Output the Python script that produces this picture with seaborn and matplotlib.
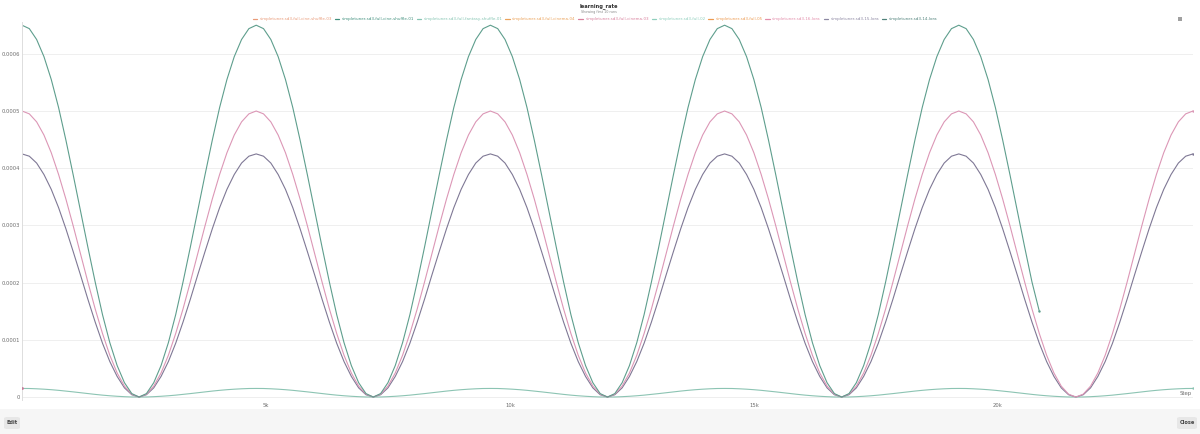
import numpy as np
import pandas as pd
import matplotlib
matplotlib.use("Agg")
import matplotlib.pyplot as plt
import seaborn as sns
from matplotlib.lines import Line2D
from matplotlib.patches import FancyBboxPatch, Rectangle

steps = [0, 150, 300, 450, 600, 750, 900, 1050, 1200, 1350, 1500, 1650, 1800, 1950, 2100, 2250,
         2400, 2550, 2700, 2850, 3000, 3150, 3300, 3450, 3600, 3750, 3900, 4050, 4200, 4350, 4500, 4650,
         4800, 4950, 5100, 5250, 5400, 5550, 5700, 5850, 6000, 6150, 6300, 6450, 6600, 6750, 6900, 7050,
         7200, 7350, 7500, 7650, 7800, 7950, 8100, 8250, 8400, 8550, 8700, 8850, 9000, 9150, 9300, 9450,
         9600, 9750, 9900, 10050, 10200, 10350, 10500, 10650, 10800, 10950, 11100, 11250, 11400, 11550, 11700, 11850,
         12000, 12150, 12300, 12450, 12600, 12750, 12900, 13050, 13200, 13350, 13500, 13650, 13800, 13950, 14100, 14250,
         14400, 14550, 14700, 14850, 15000, 15150, 15300, 15450, 15600, 15750, 15900, 16050, 16200, 16350, 16500, 16650,
         16800, 16950, 17100, 17250, 17400, 17550, 17700, 17850, 18000, 18150, 18300, 18450, 18600, 18750, 18900, 19050,
         19200, 19350, 19500, 19650, 19800, 19950, 20100, 20250, 20400, 20550, 20700, 20850, 21000, 21150, 21300, 21450,
         21600, 21750, 21900, 22050, 22200, 22350, 22500, 22650, 22800, 22950, 23100, 23250, 23400, 23550, 23700, 23850,
         24000]

# learning rate values, in units of 1e-6
lr_14_lora = [650, 644, 625, 595, 555, 506, 449, 388, 325, 262, 201, 144, 95, 55, 25, 6,
              0, 6, 25, 55, 95, 144, 201, 262, 325, 388, 449, 506, 555, 595, 625, 644,
              650, 644, 625, 595, 555, 506, 449, 388, 325, 262, 201, 144, 95, 55, 25, 6,
              0, 6, 25, 55, 95, 144, 201, 262, 325, 388, 449, 506, 555, 595, 625, 644,
              650, 644, 625, 595, 555, 506, 449, 388, 325, 262, 201, 144, 95, 55, 25, 6,
              0, 6, 25, 55, 95, 144, 201, 262, 325, 388, 449, 506, 555, 595, 625, 644,
              650, 644, 625, 595, 555, 506, 449, 388, 325, 262, 201, 144, 95, 55, 25, 6,
              0, 6, 25, 55, 95, 144, 201, 262, 325, 388, 449, 506, 555, 595, 625, 644,
              650, 644, 625, 595, 555, 506, 449, 388, 325, 262, 201, 150]

lr_16_lora = [500, 495, 481, 458, 427, 389, 346, 299, 250, 201, 154, 111, 73, 42, 19, 5,
              0, 5, 19, 42, 73, 111, 154, 201, 250, 299, 346, 389, 427, 458, 481, 495,
              500, 495, 481, 458, 427, 389, 346, 299, 250, 201, 154, 111, 73, 42, 19, 5,
              0, 5, 19, 42, 73, 111, 154, 201, 250, 299, 346, 389, 427, 458, 481, 495,
              500, 495, 481, 458, 427, 389, 346, 299, 250, 201, 154, 111, 73, 42, 19, 5,
              0, 5, 19, 42, 73, 111, 154, 201, 250, 299, 346, 389, 427, 458, 481, 495,
              500, 495, 481, 458, 427, 389, 346, 299, 250, 201, 154, 111, 73, 42, 19, 5,
              0, 5, 19, 42, 73, 111, 154, 201, 250, 299, 346, 389, 427, 458, 481, 495,
              500, 495, 481, 458, 427, 389, 346, 299, 250, 201, 154, 111, 73, 42, 19, 5,
              0, 5, 19, 42, 73, 111, 154, 201, 250, 299, 346, 389, 427, 458, 481, 495,
              500]

lr_15_lora = [425, 421, 409, 389, 363, 331, 294, 254, 213, 171, 131, 94, 62, 36, 16, 4,
              0, 4, 16, 36, 62, 94, 131, 171, 213, 254, 294, 331, 363, 389, 409, 421,
              425, 421, 409, 389, 363, 331, 294, 254, 213, 171, 131, 94, 62, 36, 16, 4,
              0, 4, 16, 36, 62, 94, 131, 171, 213, 254, 294, 331, 363, 389, 409, 421,
              425, 421, 409, 389, 363, 331, 294, 254, 213, 171, 131, 94, 62, 36, 16, 4,
              0, 4, 16, 36, 62, 94, 131, 171, 213, 254, 294, 331, 363, 389, 409, 421,
              425, 421, 409, 389, 363, 331, 294, 254, 213, 171, 131, 94, 62, 36, 16, 4,
              0, 4, 16, 36, 62, 94, 131, 171, 213, 254, 294, 331, 363, 389, 409, 421,
              425, 421, 409, 389, 363, 331, 294, 254, 213, 171, 131, 94, 62, 36, 16, 4,
              0, 4, 16, 36, 62, 94, 131, 171, 213, 254, 294, 331, 363, 389, 409, 421,
              425]

lr_full_02 = [15, 14.9, 14.4, 13.7, 12.8, 11.7, 10.4, 9.0, 7.5, 6.0, 4.6, 3.3, 2.2, 1.3, 0.6, 0.1,
              0, 0.1, 0.6, 1.3, 2.2, 3.3, 4.6, 6.0, 7.5, 9.0, 10.4, 11.7, 12.8, 13.7, 14.4, 14.9,
              15, 14.9, 14.4, 13.7, 12.8, 11.7, 10.4, 9.0, 7.5, 6.0, 4.6, 3.3, 2.2, 1.3, 0.6, 0.1,
              0, 0.1, 0.6, 1.3, 2.2, 3.3, 4.6, 6.0, 7.5, 9.0, 10.4, 11.7, 12.8, 13.7, 14.4, 14.9,
              15, 14.9, 14.4, 13.7, 12.8, 11.7, 10.4, 9.0, 7.5, 6.0, 4.6, 3.3, 2.2, 1.3, 0.6, 0.1,
              0, 0.1, 0.6, 1.3, 2.2, 3.3, 4.6, 6.0, 7.5, 9.0, 10.4, 11.7, 12.8, 13.7, 14.4, 14.9,
              15, 14.9, 14.4, 13.7, 12.8, 11.7, 10.4, 9.0, 7.5, 6.0, 4.6, 3.3, 2.2, 1.3, 0.6, 0.1,
              0, 0.1, 0.6, 1.3, 2.2, 3.3, 4.6, 6.0, 7.5, 9.0, 10.4, 11.7, 12.8, 13.7, 14.4, 14.9,
              15, 14.9, 14.4, 13.7, 12.8, 11.7, 10.4, 9.0, 7.5, 6.0, 4.6, 3.3, 2.2, 1.3, 0.6, 0.1,
              0, 0.1, 0.6, 1.3, 2.2, 3.3, 4.6, 6.0, 7.5, 9.0, 10.4, 11.7, 12.8, 13.7, 14.4, 14.9,
              15]

# a run that only logged its first step
lr_cinema_03 = [15]

run_names = ["simpletuner-sd3-full-cine-shuffle-03", "simpletuner-sd3-full-cine-shuffle-01",
             "simpletuner-sd3-full-fantasy-shuffle-01", "simpletuner-sd3-full-cinema-04",
             "simpletuner-sd3-full-cinema-03", "simpletuner-sd3-full-02",
             "simpletuner-sd3-full-05", "simpletuner-sd3-16-lora",
             "simpletuner-sd3-15-lora", "simpletuner-sd3-14-lora"]
run_colors = ["#e99a78", "#3f8f7c", "#86c5b3", "#eba25a", "#d9809d",
              "#8fcfbd", "#ed9b52", "#e38daa", "#8d88a3", "#4f817a"]

plotted = {
    "simpletuner-sd3-full-02": lr_full_02,
    "simpletuner-sd3-15-lora": lr_15_lora,
    "simpletuner-sd3-16-lora": lr_16_lora,
    "simpletuner-sd3-14-lora": lr_14_lora,
}
line_colors = {
    "simpletuner-sd3-14-lora": "#5e9e8d",
    "simpletuner-sd3-16-lora": "#dc97b6",
    "simpletuner-sd3-15-lora": "#7f7895",
    "simpletuner-sd3-full-02": "#8cc4b3",
}

frames = []
for name, vals in plotted.items():
    frames.append(pd.DataFrame({"step": steps[:len(vals)],
                                "lr": np.array(vals) * 1e-6, "run": name}))
df = pd.concat(frames, ignore_index=True)

sns.set_theme(style="white")
plt.rcParams["font.family"] = ["DejaVu Sans"]

W, H = 1200, 434
fig = plt.figure(figsize=(12, 4.34), dpi=100)
fig.patch.set_facecolor("white")
ax = fig.add_axes([22 / W, 1 - 400 / H, 1171 / W, 378 / H])

sns.lineplot(data=df, x="step", y="lr", hue="run", palette=line_colors,
             sort=False, estimator=None, linewidth=0.8, legend=False, ax=ax)
for name, vals in plotted.items():
    ax.scatter([steps[len(vals) - 1]], [vals[-1] * 1e-6], s=3,
               color=line_colors[name], zorder=5, linewidths=0)
ax.scatter([steps[0]], [lr_cinema_03[0] * 1e-6], s=4, color="#c77b9a", zorder=6, linewidths=0)

ax.set_xlim(0, 24000)
ax.set_ylim(-5.2e-6, 6.556e-4)
yt = [0, 1e-4, 2e-4, 3e-4, 4e-4, 5e-4, 6e-4]
ax.set_yticks(yt)
ax.set_yticklabels(["0", "0.0001", "0.0002", "0.0003", "0.0004", "0.0005", "0.0006"])
ax.set_xticks([5000, 10000, 15000, 20000])
ax.set_xticklabels(["5k", "10k", "15k", "20k"])
ax.tick_params(axis="both", length=0, labelsize=3.8, colors="#6d6d6d")
ax.tick_params(axis="y", pad=1.5)
ax.tick_params(axis="x", pad=2.5)
ax.grid(axis="y", color="#efefef", linewidth=0.7)
ax.set_axisbelow(True)
ax.set_xlabel("")
ax.set_ylabel("")
for s in ["top", "right", "bottom"]:
    ax.spines[s].set_visible(False)
ax.spines["left"].set_color("#dddddd")
ax.spines["left"].set_linewidth(0.7)
ax.axhline(0, color="#dcdcdc", linewidth=0.7, zorder=0)

fig.text(1186 / W, 1 - 394 / H, "Step", fontsize=3.9, color="#6d6d6d", ha="center", va="center")

fig.text(599 / W, 1 - 6.5 / H, "learning_rate", fontsize=3.7, weight="bold", color="#333333",
         ha="center", va="center")
fig.text(599 / W, 1 - 12.5 / H, "Showing first 10 runs", fontsize=2.4, color="#8a8a8a",
         ha="center", va="center")

handles = [Line2D([0], [0], color=c, lw=0.9) for c in run_colors]
leg = fig.legend(handles, run_names, loc="center", bbox_to_anchor=(595 / W, 1 - 19 / H),
                 ncol=10, fontsize=2.9, frameon=False, handlelength=1.1,
                 handletextpad=0.6, columnspacing=0.7)
for t, c in zip(leg.get_texts(), run_colors):
    t.set_color(c)

# bottom toolbar with buttons
fig.patches.append(Rectangle((0, 0), 1, 1 - 409 / H, transform=fig.transFigure,
                             facecolor="#f6f6f6", edgecolor="none", zorder=0))
for x0, w, label in [(4, 16, "Edit"), (1177, 20, "Close")]:
    fig.patches.append(FancyBboxPatch((x0 / W, 1 - 429 / H), w / W, 12 / H,
                                      boxstyle="round,pad=0,rounding_size=0.003",
                                      transform=fig.transFigure, facecolor="#e7e7e7",
                                      edgecolor="none", zorder=1))
    fig.text((x0 + w / 2) / W, 1 - 423 / H, label, fontsize=3.6, weight="bold", color="#444444",
             ha="center", va="center")
fig.patches.append(Rectangle((1178 / W, 1 - 21 / H), 4 / W, 4 / H, transform=fig.transFigure,
                             facecolor="#a0a0a0", edgecolor="none"))

fig.savefig("out.png", dpi=100, facecolor="white")
